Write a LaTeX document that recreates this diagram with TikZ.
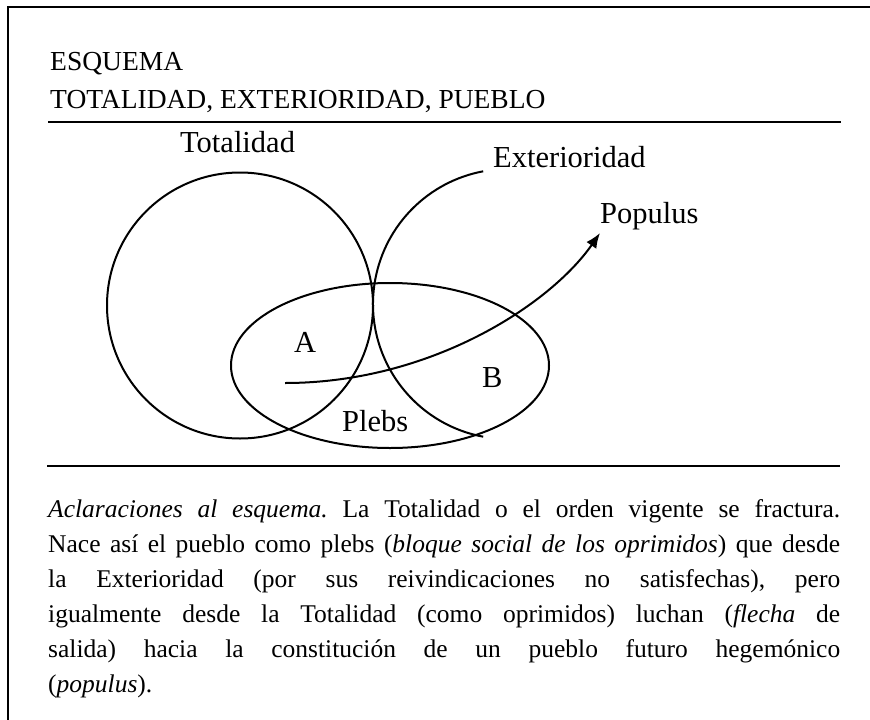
\documentclass[tikz,border=0pt]{standalone}
\usepackage{fontspec}
\setmainfont{Liberation Serif}
\usetikzlibrary{shapes.geometric,arrows.meta}
\frenchspacing
\begin{document}
\begin{tikzpicture}[x=1pt,y=-1pt,
  lbl/.style={anchor=base west,inner sep=0pt,font=\fontsize{30.5}{36}\selectfont},
  ttl/.style={anchor=base west,inner sep=0pt,font=\fontsize{27.5}{33}\selectfont},
  shp/.style={draw,line width=2pt},
  rulestyle/.style={line width=2pt},
  framestyle/.style={line width=2.5pt}]
\useasboundingbox (0,0) rectangle (870,720);
% frame (cropped: only top and left sides visible)
\coordinate (f1) at (8,7);
\coordinate (f2) at (872,7);
\coordinate (f3) at (8,722);
\draw[framestyle] (f2) -- (f1) -- (f3);
% title
\node[ttl] (t1) at (50,70) {ESQUEMA};
\node[ttl] (t2) at (50,108) {TOTALIDAD, EXTERIORIDAD, PUEBLO};
% rules
\coordinate (r1a) at (48,122);
\coordinate (r1b) at (841,122);
\coordinate (r2a) at (47,466);
\coordinate (r2b) at (840,466);
\draw[rulestyle] (r1a) -- (r1b);
\draw[rulestyle] (r2a) -- (r2b);
% shapes
\node[shp,circle,minimum size=266pt,inner sep=0pt] (tot) at (240,305.5) {};
\node[shp,ellipse,minimum width=318pt,minimum height=165pt,inner sep=0pt] (plebs) at (390,365.5) {};
\coordinate (ext) at (508,304);
\draw[line width=2pt] (ext) ++(100.6:135) arc[start angle=100.6,end angle=259.4,radius=135];
% arrow
\coordinate (a0) at (285,383);
\coordinate (a1) at (600,233);
\draw[line width=2pt,-{Latex[length=15pt,width=12pt]}] (a0) .. controls (430,383) and (550,305) .. (a1);
% labels
\node[lbl] (ltot) at (180,152) {Totalidad};
\node[lbl] (lext) at (493,167) {Exterioridad};
\node[lbl] (lpop) at (600,223) {Populus};
\node[lbl] (la) at (294,352) {A};
\node[lbl] (lb) at (482,387) {B};
\node[lbl] (lpl) at (342,431) {Plebs};
% caption
\node[anchor=north west,inner sep=0pt,text width=792pt,align=justify,
      font=\fontsize{25.5}{35}\selectfont] (cap) at (48,499) {%
\makebox[792pt][s]{\textit{Aclaraciones al esquema.} La Totalidad o el orden vigente se fractura.}\\
\makebox[792pt][s]{Nace así el pueblo como plebs (\textit{bloque social de los oprimidos}) que desde}\\
\makebox[792pt][s]{la Exterioridad (por sus reivindicaciones no satisfechas), pero}\\
\makebox[792pt][s]{igualmente desde la Totalidad (como oprimidos) luchan (\textit{flecha} de}\\
\makebox[792pt][s]{salida) hacia la constitución de un pueblo futuro hegemónico}\\
(\textit{populus}).};
\end{tikzpicture}
\end{document}
